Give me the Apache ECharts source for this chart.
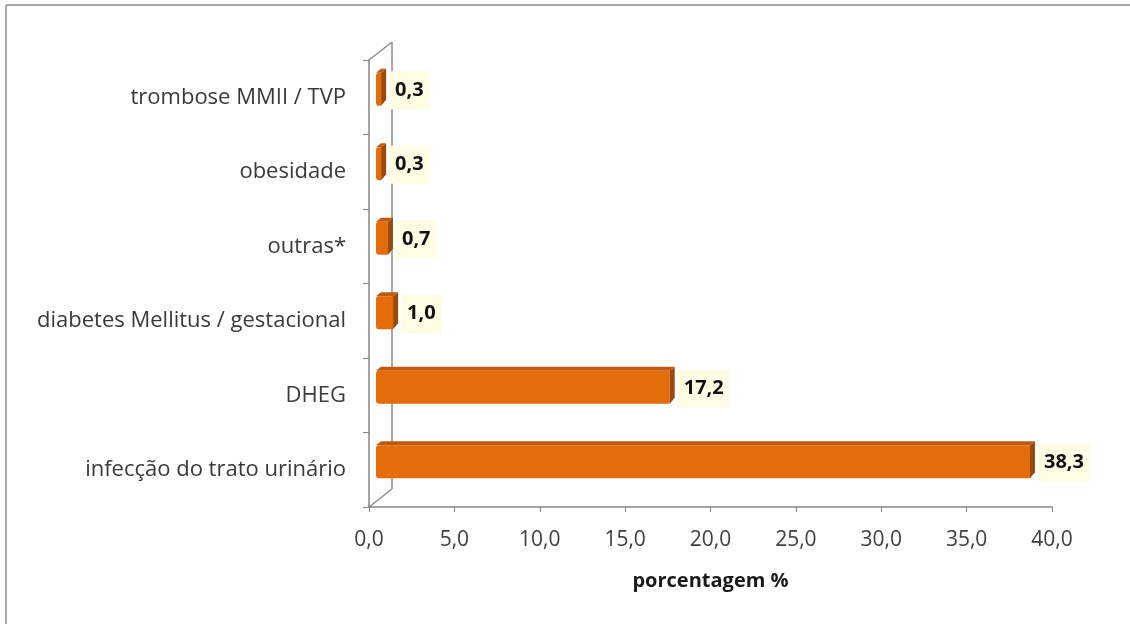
<!DOCTYPE html>
<html><head><meta charset="utf-8">
<script src="https://cdn.jsdelivr.net/npm/echarts@6/dist/echarts.min.js"></script>
<style>html,body{margin:0;padding:0;background:#fff}#c{width:1130px;height:624px}</style>
</head><body><div id="c"></div>
<script>
const categories = ['infecção do trato urinário','DHEG','diabetes Mellitus / gestacional','outras*','obesidade','trombose MMII / TVP'];
const values = [38.3, 17.2, 1.0, 0.7, 0.3, 0.3];
const xMin = 0, xMax = 40, xInterval = 5;
const axisName = 'porcentagem %';

const fmt = v => v.toFixed(1).replace('.', ',');
const FONT = '"Open Sans", sans-serif';
const GL = 369, GT = 60, GR = 1130 - 1052, GB = 624 - 507;
const DEPTH_X = 23, DEPTH_Y = -18;

function renderItem(params, api) {
  const v = api.value(0), ci = api.value(1);
  const p0 = api.coord([0, ci]);
  const p1 = api.coord([v, ci]);
  const ox = 7, oy = -8, h = 33, dx = 5, dy = -4;
  const x0 = p0[0] + ox, x1 = p1[0] + ox, yc = p0[1] + oy;
  const top = yc - h / 2, bot = yc + h / 2;
  return {
    type: 'group',
    children: [
      { type: 'polygon', shape: { points: [[x0, top], [x1, top], [x1 + dx, top + dy], [x0 + dx, top + dy]] }, style: { fill: '#C05A0C' } },
      { type: 'rect', shape: { x: x0, y: top, width: x1 - x0, height: h, r: [3, 0, 0, 3] }, style: { fill: '#E46C0A' } },
      { type: 'polygon', shape: { points: [[x1, top], [x1 + dx, top + dy], [x1 + dx, bot + dy - 2], [x1, bot]] }, style: { fill: '#9A4A0A' } },
      { type: 'text', x: x1 + dx + 3, y: yc + 1,
        style: { text: fmt(v), fill: '#111', font: 'bold 20px ' + FONT, verticalAlign: 'middle', align: 'left',
                 backgroundColor: '#FFFDE3', padding: [9, 6, 9, 6] } }
    ]
  };
}

const chart = echarts.init(document.getElementById('c'));
chart.setOption({
  backgroundColor: '#fff',
  animation: false,
  grid: { left: GL, top: GT, right: GR, bottom: GB },
  xAxis: {
    type: 'value', min: xMin, max: xMax, interval: xInterval,
    name: axisName, nameLocation: 'middle', nameGap: 64,
    nameTextStyle: { fontFamily: FONT, fontWeight: 'bold', fontSize: 20, color: '#1a1a1a' },
    axisLine: { show: true, lineStyle: { color: '#868686', width: 1.5 } },
    axisTick: { show: true, length: 5, lineStyle: { color: '#868686' } },
    axisLabel: { formatter: fmt, fontFamily: FONT, fontSize: 21, color: '#404040', margin: 23 },
    splitLine: { show: false }
  },
  yAxis: {
    type: 'category', data: categories,
    axisLine: { show: true, lineStyle: { color: '#868686', width: 1.5 } },
    axisTick: { show: true, length: 6, lineStyle: { color: '#868686' } },
    axisLabel: { fontFamily: FONT, fontSize: 22, color: '#3a3a3a', margin: 23 }
  },
  series: [{
    type: 'custom', renderItem,
    data: values.map((v, i) => [v, i]),
    encode: { x: 0, y: 1 }, z: 3
  }]
});

const xb = chart.convertToPixel({ xAxisIndex: 0 }, 0);
const yTop = GT, yBot = 624 - GB;
const line = (x1, y1, x2, y2) => ({ type: 'line', shape: { x1, y1, x2, y2 }, style: { stroke: '#8c8c8c', lineWidth: 1.5 }, z: 1 });
chart.setOption({
  graphic: [
    line(xb, yTop, xb + DEPTH_X, yTop + DEPTH_Y),
    line(xb + DEPTH_X, yTop + DEPTH_Y, xb + DEPTH_X, yBot + DEPTH_Y),
    line(xb, yBot, xb + DEPTH_X, yBot + DEPTH_Y),
    line(6, 5, 1130, 5),
    line(6, 5, 6, 624)
  ]
});
</script></body></html>
